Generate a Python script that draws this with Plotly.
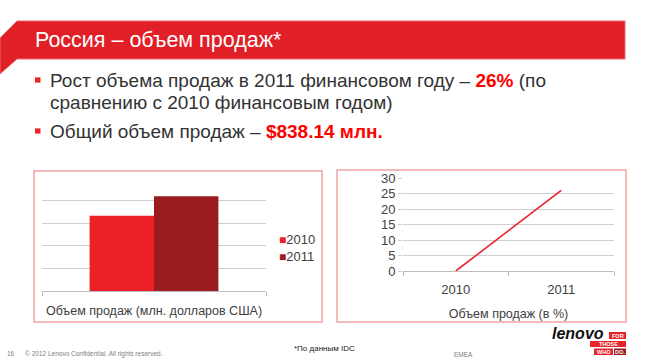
import plotly.graph_objects as go

W, H = 650, 364


def px(x):
    return x / W


def py(y):
    return 1 - y / H


# ---------------- data ----------------
years = ["2010", "2011"]
sales_musd = [665.2, 838.14]          # объем продаж, млн. долларов США
growth_pct = [0, 26]                  # рост объема продаж, %
bar_category = ["Объем продаж (млн. долларов США)"]
line_title = "Объем продаж (в %)"
title_text = "Россия – объем продаж*"
bullet_lines = [
    "Рост объема продаж в 2011 финансовом году – <b><span style='color:#ff0000'>26%</span></b> (по",
    "сравнению с 2010 финансовым годом)",
    "Общий объем продаж – <b><span style='color:#ff0000'>$838.14 млн.</span></b>",
]
footnote = "*По данным IDC"
copyright_text = "16      © 2012 Lenovo Confidential. All rights reserved."
region_text = "EMEA"

bar_colors = ["#ec2128", "#9a1c1f"]
line_color = "#e8242b"
grid_color = "#cfcfcf"
axis_color = "#bdbdbd"
text_color = "#404040"
FONT = "Liberation Sans, Arial, sans-serif"

fig = go.Figure()
for yr, val, col in zip(years, sales_musd, bar_colors):
    fig.add_trace(go.Bar(x=bar_category, y=[val], name=yr, marker_color=col,
                         marker_line_width=0, xaxis="x", yaxis="y", showlegend=False))
fig.add_trace(go.Scatter(x=years, y=growth_pct, mode="lines", showlegend=False,
                         line=dict(color=line_color, width=1.6),
                         xaxis="x2", yaxis="y2"))

shapes = []
# banner
bp = [(0, 38), (17, 21), (625, 21), (625, 59), (17, 59), (0, 74)]
path = "M " + " L ".join(f"{px(x):.5f},{py(y):.5f}" for x, y in bp) + " Z"
shapes.append(dict(type="path", xref="paper", yref="paper", path=path,
                   fillcolor="#e01f26", line=dict(color="#e86a6e", width=1), layer="below"))
# chart boxes
for x0, y0, x1, y1 in [(34, 171, 322, 322), (337, 170, 626, 322)]:
    shapes.append(dict(type="rect", xref="paper", yref="paper",
                       x0=px(x0), x1=px(x1), y0=py(y1), y1=py(y0),
                       line=dict(color="#f0a4a4", width=1.5), fillcolor="rgba(0,0,0,0)",
                       layer="below"))
# bullets
for yc in [80, 131]:
    shapes.append(dict(type="rect", xref="paper", yref="paper",
                       x0=px(35), x1=px(40.5), y0=py(yc + 2.6), y1=py(yc - 2.6),
                       fillcolor="#e8242b", line=dict(width=0)))

annotations = []
annotations.append(dict(text=title_text, x=px(33), y=py(40), xref="paper", yref="paper",
                        xanchor="left", yanchor="middle", showarrow=False,
                        font=dict(family=FONT, size=21.5, color="white")))
for txt, yc in zip(bullet_lines, [80, 102.5, 131]):
    annotations.append(dict(text=txt, x=px(48), y=py(yc), xref="paper", yref="paper",
                            xanchor="left", yanchor="middle", showarrow=False,
                            font=dict(family=FONT, size=19, color="#333333")))
# legend of the bar chart
for i, (yr, c) in enumerate(zip(years, bar_colors)):
    annotations.append(dict(text=f"<span style='color:{c};font-size:12px'>■</span>{yr}",
                            x=px(277), y=py(239 + 17.5 * i), xref="paper", yref="paper",
                            xanchor="left", yanchor="middle", showarrow=False,
                            font=dict(family=FONT, size=13, color=text_color)))
annotations.append(dict(text=footnote, x=px(292), y=py(348), xref="paper", yref="paper",
                        xanchor="left", yanchor="middle", showarrow=False,
                        font=dict(family=FONT, size=8, color="#222222")))
annotations.append(dict(text=copyright_text, x=px(5), y=py(354), xref="paper", yref="paper",
                        xanchor="left", yanchor="middle", showarrow=False,
                        font=dict(family=FONT, size=6.5, color="#808080")))
annotations.append(dict(text=region_text, x=px(452), y=py(354), xref="paper", yref="paper",
                        xanchor="left", yanchor="middle", showarrow=False,
                        font=dict(family=FONT, size=6.5, color="#808080")))
# lenovo logo
annotations.append(dict(text="<b><i>lenovo</i></b>", x=px(606), y=py(333.5), xref="paper", yref="paper",
                        xanchor="right", yanchor="middle", showarrow=False,
                        font=dict(family=FONT, size=16, color="#111111")))
logo_boxes = [("FOR", 609, 626, 332, 339, "#e8242b"),
              ("THOSE", 590, 626, 341, 347, "#e8242b"),
              ("WHO", 594, 613, 348.5, 355, "#e8242b"),
              ("DO.", 614, 626, 348.5, 355, "#9a1c1f")]
for t, x0, x1, y0, y1, c in logo_boxes:
    shapes.append(dict(type="rect", xref="paper", yref="paper", x0=px(x0), x1=px(x1),
                       y0=py(y1), y1=py(y0), fillcolor=c, line=dict(width=0)))
    annotations.append(dict(text=f"<b>{t}</b>", x=px((x0 + x1) / 2), y=py((y0 + y1) / 2),
                            xref="paper", yref="paper", xanchor="center", yanchor="middle",
                            showarrow=False, font=dict(family=FONT, size=5.5, color="white")))

fig.update_layout(
    width=W, height=H, autosize=False,
    margin=dict(l=0, r=0, t=0, b=0, pad=0),
    paper_bgcolor="white", plot_bgcolor="white",
    font=dict(family=FONT, color=text_color),
    barmode="group", bargap=0.425, bargroupgap=0,
    showlegend=False,
    xaxis=dict(domain=[px(42), px(266)], anchor="y", type="category",
               showline=True, linecolor=axis_color, linewidth=1,
               ticks="outside", tickson="boundaries", ticklen=4, tickcolor=axis_color,
               showgrid=False, tickfont=dict(size=12.5, color=text_color),
               tickangle=0, automargin=False, ticklabelstandoff=8),
    yaxis=dict(domain=[py(291), py(178)], anchor="x", range=[0, 1000], dtick=200,
               showticklabels=False, gridcolor=grid_color, gridwidth=1,
               zeroline=False, showline=False, ticks="", automargin=False),
    xaxis2=dict(domain=[px(403), px(614)], anchor="y2", type="category",
                range=[-0.5, 1.5],
                showline=True, linecolor=axis_color, linewidth=1,
                ticks="outside", tickson="boundaries", ticklen=4, tickcolor=axis_color,
                showgrid=False, tickfont=dict(size=13, color=text_color),
                tickangle=0, automargin=False, ticklabelstandoff=6,
                title=dict(text=line_title, font=dict(size=12.5, color=text_color), standoff=13)),
    yaxis2=dict(domain=[py(271), py(178)], anchor="x2", range=[0, 30], dtick=5,
                gridcolor=grid_color, gridwidth=1, zeroline=False, showline=False,
                ticks="outside", ticklen=4, tickcolor=grid_color, automargin=False,
                tickfont=dict(size=13, color=text_color)),
    shapes=shapes, annotations=annotations,
)

fig.write_html("out.html", config={"displayModeBar": False},
               post_script="document.body.style.margin='0';document.body.style.padding='0';")
